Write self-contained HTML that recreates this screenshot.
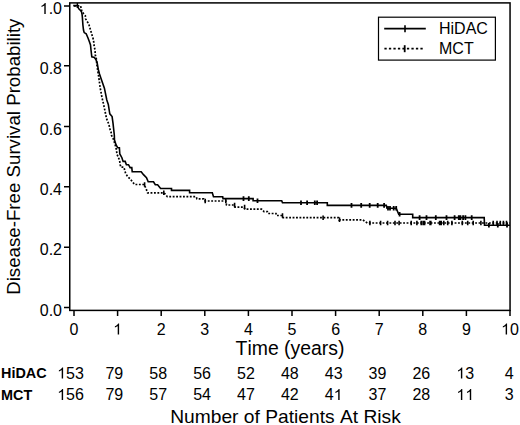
<!DOCTYPE html>
<html><head><meta charset="utf-8"><style>
html,body{margin:0;padding:0;background:#fff;width:520px;height:425px;overflow:hidden}
svg{display:block}
text{font-family:"Liberation Sans",sans-serif;fill:#000;font-kerning:none}
.t16{font-size:16px}
.t15{font-size:15px}
.t185{font-size:18.5px}
.t187{font-size:18.7px}
.t193{font-size:19.3px}
.b14{font-size:14.4px;font-weight:bold}
</style></head><body>
<svg width="520" height="425" viewBox="0 0 520 425">
<rect x="69.75" y="2.9" width="440.3" height="307.5" fill="none" stroke="#000" stroke-width="1.5"/>
<path d="M64,6.0 H70 M64,65.85 H70 M64,126.4 H70 M64,186.8 H70 M64,247.15 H70 M64,307.5 H70" stroke="#000" stroke-width="1.5"/>
<path d="M74.0,310 V316 M117.6,310 V316 M161.2,310 V316 M204.8,310 V316 M248.4,310 V316 M292.0,310 V316 M335.6,310 V316 M379.2,310 V316 M422.8,310 V316 M466.4,310 V316 M510.0,310 V316" stroke="#000" stroke-width="1.5"/>
<text x="39.758" y="14" class="t16"><tspan fill="transparent">1</tspan>.0</text><path transform="translate(39.758,14) scale(0.007812,-0.007812)" d="M763 0L583 0L583 1100Q518 1040 412 980Q307 922 223 893L223 1060Q374 1130 487 1226Q600 1324 647 1409L763 1409Z"/>
<text x="39.758" y="74" class="t16">0.8</text>
<text x="39.758" y="135" class="t16">0.6</text>
<text x="39.758" y="195" class="t16">0.4</text>
<text x="39.758" y="255" class="t16">0.2</text>
<text x="39.758" y="316" class="t16">0.0</text>
<text x="69.551" y="334.5" class="t16">0</text>
<text x="113.151" y="334.5" class="t16"><tspan fill="transparent">1</tspan></text><path transform="translate(113.151,334.5) scale(0.007812,-0.007812)" d="M763 0L583 0L583 1100Q518 1040 412 980Q307 922 223 893L223 1060Q374 1130 487 1226Q600 1324 647 1409L763 1409Z"/>
<text x="156.751" y="334.5" class="t16">2</text>
<text x="200.351" y="334.5" class="t16">3</text>
<text x="243.951" y="334.5" class="t16">4</text>
<text x="287.551" y="334.5" class="t16">5</text>
<text x="331.151" y="334.5" class="t16">6</text>
<text x="374.751" y="334.5" class="t16">7</text>
<text x="418.351" y="334.5" class="t16">8</text>
<text x="461.951" y="334.5" class="t16">9</text>
<text x="501.102" y="334.5" class="t16"><tspan fill="transparent">1</tspan>0</text><path transform="translate(501.102,334.5) scale(0.007812,-0.007812)" d="M763 0L583 0L583 1100Q518 1040 412 980Q307 922 223 893L223 1060Q374 1130 487 1226Q600 1324 647 1409L763 1409Z"/>
<path d="M73.2,5.6 L77.4,5.6 L77.9,7.0 L78.8,8.8 L80.3,10.3 L81.5,11.8 L82.1,14.7 L82.4,17.6 L82.6,20.6 L82.9,25.0 L83.5,30.0 L84.2,32.6 L86.2,33.8 L88.0,38.0 L89.5,42.0 L90.5,45.0 L91.0,50.0 L91.8,56.8 L94.4,57.5 L95.5,59.0 L97.0,62.0 L98.3,69.4 L99.5,74.0 L101.1,78.8 L104.4,88.2 L106.8,100.0 L108.3,104.4 L109.8,113.8 L112.1,116.6 L113.0,123.2 L114.3,135.0 L114.5,140.0 L116.1,144.9 L117.8,147.8 L119.4,147.8 L119.8,154.0 L121.9,157.7 L123.1,161.4 L125.2,161.4 L126.4,164.7 L128.5,164.7 L130.1,167.6 L131.8,167.6 L132.2,171.7 L141.2,171.7 L143.5,174.7 L146.5,177.6 L148.2,181.8 L153.5,181.8 L155.3,184.7 L157.6,184.7 L160.6,188.5 L171.5,188.5 L171.5,190.4 L189.6,190.4 L189.6,192.7 L212.3,192.7 L213.5,196.7 L222.7,196.7 L223.0,198.6 L253.1,198.6 L253.1,200.7 L281.7,200.7 L282.5,202.8 L327.3,202.8 L327.3,205.4 L386.3,205.4 L387.0,208.2 L396.2,208.2 L398.7,214.2 L412.7,214.2 L412.7,217.6 L484.2,217.6 L484.5,225.2 L510.0,225.2" fill="none" stroke="#000" stroke-width="1.6" stroke-linejoin="miter"/>
<path d="M243.5,196.3 V200.9 M248.8,196.3 V200.9 M257.5,198.4 V203.0 M301.0,200.5 V205.1 M307.1,200.5 V205.1 M314.8,200.5 V205.1 M317.1,200.5 V205.1 M351.5,203.1 V207.7 M361.2,203.1 V207.7 M369.7,203.1 V207.7 M377.7,203.1 V207.7 M384.1,203.1 V207.7 M388.0,205.9 V210.5 M390.0,205.9 V210.5 M393.7,205.9 V210.5 M396.2,205.9 V210.5 M399.6,211.9 V216.5 M419.6,215.3 V219.9 M426.5,215.3 V219.9 M435.8,215.3 V219.9 M446.5,215.3 V219.9 M454.6,215.3 V219.9 M458.8,215.3 V219.9 M460.4,215.3 V219.9 M463.1,215.3 V219.9 M465.4,215.3 V219.9 M471.7,215.3 V219.9 M488.9,222.9 V227.5 M497.8,222.9 V227.5 M507.0,222.9 V227.5" fill="none" stroke="#000" stroke-width="1.8"/>
<path d="M77.4,3 V8" fill="none" stroke="#000" stroke-width="1.5"/>
<path d="M74.0,5.9 L80.6,5.9 L81.8,11.2 L83.5,13.5 L85.3,15.6 L85.6,18.8 L86.8,20.9 L88.8,24.1 L90.5,30.0 L92.0,35.0 L93.5,40.0 L94.0,45.0 L95.0,50.0 L95.3,55.0 L96.2,58.0 L96.9,65.0 L97.8,71.0 L98.6,76.0 L99.4,82.0 L100.2,88.0 L100.8,91.0 L102.0,97.6 L103.6,104.4 L105.0,111.0 L106.5,118.5 L108.8,124.2 L110.2,130.0 L111.2,132.6 L111.6,135.6 L113.5,139.4 L115.5,146.0 L116.5,149.9 L116.9,154.0 L119.0,158.9 L119.8,161.8 L120.2,164.7 L121.0,167.2 L123.9,167.2 L124.8,170.5 L125.6,173.3 L127.6,176.5 L130.6,179.4 L132.9,182.4 L134.7,184.5 L144.1,184.5 L145.9,188.2 L147.6,192.8 L164.1,192.8 L167.3,196.7 L196.2,196.7 L197.0,198.8 L203.8,198.8 L205.2,201.0 L225.8,201.0 L226.5,205.0 L233.8,205.0 L235.0,207.1 L243.8,207.1 L245.0,209.2 L261.6,209.2 L264.0,211.6 L267.3,211.6 L268.0,213.5 L276.0,213.5 L276.5,215.5 L282.2,215.5 L283.0,217.7 L338.5,217.7 L339.0,219.8 L362.7,219.8 L367.4,223.0 L510.0,223.0" fill="none" stroke="#000" stroke-width="1.7" stroke-dasharray="1.85 1.58"/>
<path d="M144.6,182.2 V186.8 M163.8,190.5 V195.1 M205.2,198.7 V203.3 M225.8,198.7 V203.3 M234.6,202.7 V207.3 M244.6,204.8 V209.4 M282.5,213.2 V217.8 M323.1,215.4 V220.0 M339.5,217.5 V222.1 M369.9,220.7 V225.3 M380.6,220.7 V225.3 M387.6,220.7 V225.3 M395.0,220.7 V225.3 M399.1,220.7 V225.3 M411.2,220.7 V225.3 M416.9,220.7 V225.3 M421.2,220.7 V225.3 M423.1,220.7 V225.3 M424.6,220.7 V225.3 M430.0,220.7 V225.3 M430.8,220.7 V225.3 M439.6,220.7 V225.3 M441.2,220.7 V225.3 M443.8,220.7 V225.3 M447.7,220.7 V225.3 M451.9,220.7 V225.3 M462.3,220.7 V225.3 M467.7,220.7 V225.3 M473.2,220.7 V225.3 M480.9,220.7 V225.3 M493.2,220.7 V225.3 M497.0,220.7 V225.3 M500.3,220.7 V225.3 M503.4,220.7 V225.3 M506.5,220.7 V225.3" fill="none" stroke="#000" stroke-width="1.6"/>
<rect x="378.5" y="17.2" width="116.9" height="42.9" fill="#fff" stroke="#000" stroke-width="1.2"/>
<path d="M384.2,28.6 H425.8 M405,25.2 V32.2" stroke="#000" stroke-width="1.6"/>
<path d="M384.4,48.6 H423" stroke="#000" stroke-width="1.8" stroke-dasharray="2.3 2.2"/>
<path d="M404.7,45.2 V52.2" stroke="#000" stroke-width="1.8"/>
<text x="439" y="33.9" class="t16">HiDAC</text>
<text x="439" y="53.9" class="t16">MCT</text>
<text transform="translate(19.8,156.7) rotate(-90)" text-anchor="middle" class="t187">Disease-Free Survival Probability</text>
<text x="290" y="354.6" text-anchor="middle" class="t193" textLength="108.9" lengthAdjust="spacingAndGlyphs">Time (years)</text>
<text x="1" y="378.3" class="b14">HiDAC</text>
<text x="1" y="399.7" class="b14">MCT</text>
<text x="57.152" y="378.5" class="t16"><tspan fill="transparent">1</tspan>53</text><path transform="translate(57.152,378.5) scale(0.007812,-0.007812)" d="M763 0L583 0L583 1100Q518 1040 412 980Q307 922 223 893L223 1060Q374 1130 487 1226Q600 1324 647 1409L763 1409Z"/>
<text x="57.152" y="400" class="t16"><tspan fill="transparent">1</tspan>56</text><path transform="translate(57.152,400) scale(0.007812,-0.007812)" d="M763 0L583 0L583 1100Q518 1040 412 980Q307 922 223 893L223 1060Q374 1130 487 1226Q600 1324 647 1409L763 1409Z"/>
<text x="105.462" y="378.5" class="t16">79</text>
<text x="105.462" y="400" class="t16">79</text>
<text x="149.322" y="378.5" class="t16">58</text>
<text x="149.322" y="400" class="t16">57</text>
<text x="193.182" y="378.5" class="t16">56</text>
<text x="193.182" y="400" class="t16">54</text>
<text x="237.042" y="378.5" class="t16">52</text>
<text x="237.042" y="400" class="t16">47</text>
<text x="280.902" y="378.5" class="t16">48</text>
<text x="280.902" y="400" class="t16">42</text>
<text x="324.762" y="378.5" class="t16">43</text>
<text x="324.762" y="400" class="t16">4<tspan fill="transparent">1</tspan></text><path transform="translate(333.660,400) scale(0.007812,-0.007812)" d="M763 0L583 0L583 1100Q518 1040 412 980Q307 922 223 893L223 1060Q374 1130 487 1226Q600 1324 647 1409L763 1409Z"/>
<text x="368.622" y="378.5" class="t16">39</text>
<text x="368.622" y="400" class="t16">37</text>
<text x="412.482" y="378.5" class="t16">26</text>
<text x="412.482" y="400" class="t16">28</text>
<text x="456.342" y="378.5" class="t16"><tspan fill="transparent">1</tspan>3</text><path transform="translate(456.342,378.5) scale(0.007812,-0.007812)" d="M763 0L583 0L583 1100Q518 1040 412 980Q307 922 223 893L223 1060Q374 1130 487 1226Q600 1324 647 1409L763 1409Z"/>
<text x="456.342" y="400" class="t16"><tspan fill="transparent">1</tspan><tspan fill="transparent">1</tspan></text><path transform="translate(456.342,400) scale(0.007812,-0.007812)" d="M763 0L583 0L583 1100Q518 1040 412 980Q307 922 223 893L223 1060Q374 1130 487 1226Q600 1324 647 1409L763 1409Z"/><path transform="translate(465.240,400) scale(0.007812,-0.007812)" d="M763 0L583 0L583 1100Q518 1040 412 980Q307 922 223 893L223 1060Q374 1130 487 1226Q600 1324 647 1409L763 1409Z"/>
<text x="504.651" y="378.5" class="t16">4</text>
<text x="504.651" y="400" class="t16">3</text>
<text x="285.5" y="422.7" text-anchor="middle" class="t185" textLength="230.6" lengthAdjust="spacingAndGlyphs">Number of Patients At Risk</text>
</svg>
</body></html>
